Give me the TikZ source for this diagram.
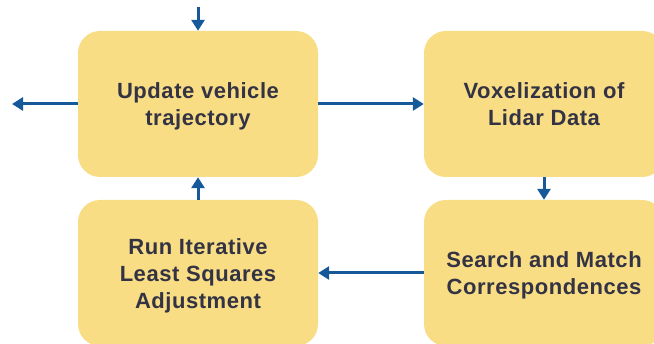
\documentclass[tikz,border=0pt]{standalone}
\usepackage{fontspec}
\setmainfont{Liberation Sans}[LetterSpace=2.5]
\usetikzlibrary{arrows.meta}
\definecolor{boxfill}{HTML}{F8DD85}
\definecolor{arrowblue}{HTML}{15599B}
\definecolor{textdark}{HTML}{333344}
\newcommand{\boxlines}[1]{\raisebox{-3pt}[\height][\depth]{\begin{tabular}{@{}c@{}}#1\end{tabular}}}
\tikzset{
  stepbox/.style={fill=boxfill, rounded corners=22pt, minimum width=240pt, minimum height=146pt,
    inner sep=0pt, align=center, text=textdark, font=\fontsize{22pt}{27pt}\selectfont\bfseries},
  flow/.style={draw=arrowblue, line width=3pt, -{Triangle[length=11pt,width=13pt]}}
}
\begin{document}
\begin{tikzpicture}[x=1pt,y=1pt]
\useasboundingbox (0,0) rectangle (654,344);
\node[stepbox] (upd) at (198,240) {\boxlines{Update vehicle\\trajectory}};
\node[stepbox] (vox) at (544,240) {\boxlines{Voxelization of\\Lidar Data}};
\node[stepbox] (run) at (198,71) {\boxlines{Run Iterative\\Least Squares\\Adjustment}};
\node[stepbox] (srch) at (544,71) {\boxlines{Search and Match\\Correspondences}};
\coordinate (topin) at (198,337);
\coordinate (leftout) at (12,240);
\draw[flow] (topin) -- (upd.north);
\draw[flow] (upd.west) -- (leftout);
\draw[flow] (upd.east) -- (vox.west);
\draw[flow] (vox.south) -- (srch.north);
\draw[flow] (srch.west) -- (run.east);
\draw[flow] (run.north) -- (upd.south);
\end{tikzpicture}
\end{document}
